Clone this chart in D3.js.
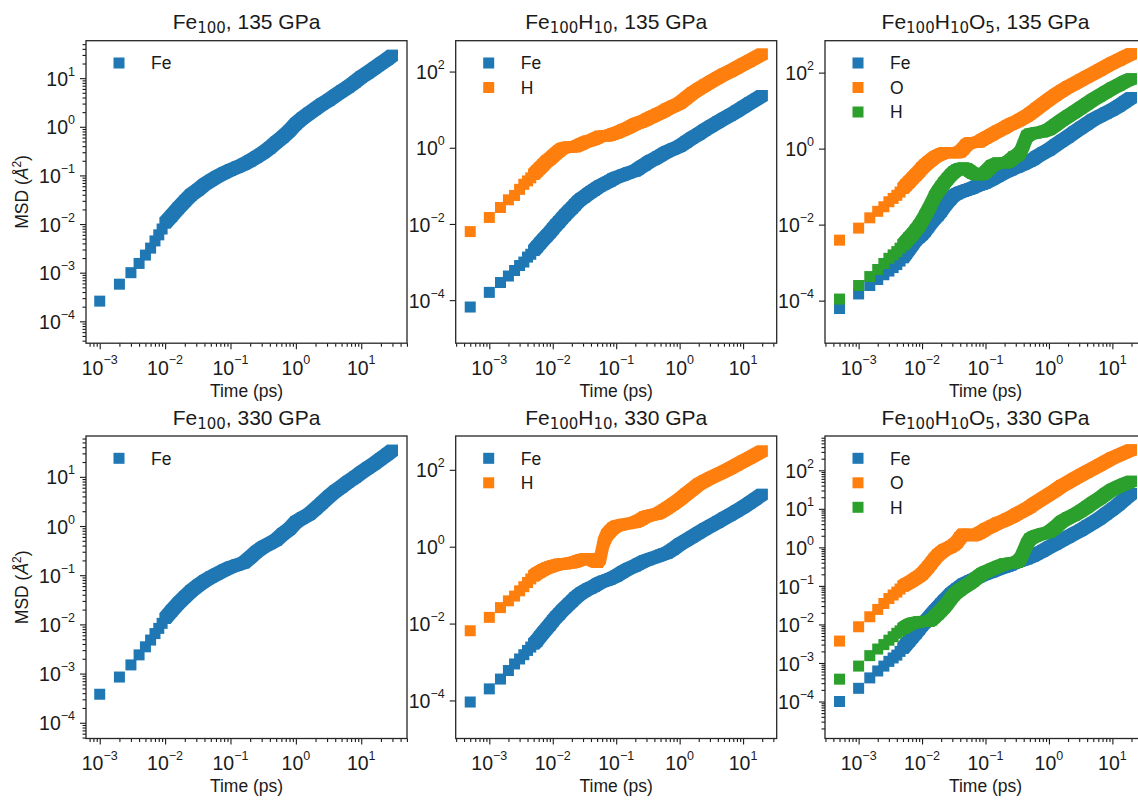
<!DOCTYPE html>
<html>
<head>
<meta charset="utf-8">
<script src="https://d3js.org/d3.v7.min.js"></script>
<style>
  body { margin: 0; background: #fff; overflow: hidden; }
  svg { font-family: "Liberation Sans", Arial, sans-serif; display: block; }
</style>
</head>
<body>
<svg width="1138" height="801"></svg>
<script>
// sampling times (ps); Fe100 runs use 1 fs steps, the H/O runs 0.5 fs
var timeFe100 = [0.001, 0.002, 0.003, 0.004, 0.005, 0.006, 0.007, 0.008, 0.009, 0.01,
  0.0126, 0.016, 0.02, 0.025, 0.032, 0.04, 0.05, 0.063, 0.08, 0.1,
  0.126, 0.16, 0.2, 0.25, 0.32, 0.4, 0.5, 0.63, 0.8, 1,
  1.26, 1.6, 2, 2.5, 3.2, 4, 5, 6.3, 8, 10, 12.6, 16, 20, 25, 30];

var timeMix = [0.0005, 0.001, 0.0015, 0.002, 0.0025, 0.003, 0.0035, 0.004, 0.0045, 0.005,
  0.0056, 0.0063, 0.0071, 0.008, 0.009,
  0.01, 0.0112, 0.0126, 0.0141, 0.0158, 0.0178, 0.02, 0.0224, 0.0251, 0.0282,
  0.0316, 0.0355, 0.0398, 0.0447, 0.0501, 0.0562, 0.0631, 0.0708, 0.0794, 0.0891,
  0.1, 0.126, 0.158, 0.2,
  0.224, 0.251, 0.282, 0.316, 0.355, 0.398, 0.447, 0.501, 0.562, 0.631,
  0.794, 1,
  1.26, 1.58, 2, 2.51, 3.16, 3.98, 5.01, 6.31, 7.94, 10, 12.6, 15.8, 20];

// past this index the real samples sit closer than a marker width
var denseFrom = 9;

// MSD (A^2)
var fe100_135_Fe = [2.6e-4, 5.8e-4, 1.0e-3, 1.55e-3, 2.3e-3, 3.2e-3, 4.5e-3, 6.0e-3, 7.9e-3, 0.0105,
  0.0148, 0.0214, 0.0295, 0.040, 0.051, 0.065, 0.079, 0.095, 0.112, 0.129,
  0.148, 0.17, 0.20, 0.24, 0.295, 0.37, 0.48, 0.62, 0.83, 1.15,
  1.5, 1.9, 2.35, 2.9, 3.55, 4.4, 5.4, 6.6, 8.3, 10.5, 12.9, 16.2, 20, 24.5, 29.5];

var fe100_330_Fe = [3.8e-4, 8.5e-4, 1.5e-3, 2.4e-3, 3.5e-3, 4.8e-3, 6.5e-3, 8.3e-3, 0.0105, 0.0132,
  0.019, 0.027, 0.036, 0.048, 0.062, 0.076, 0.091, 0.107, 0.126, 0.145,
  0.162, 0.18, 0.23, 0.30, 0.38, 0.44, 0.52, 0.69, 0.87, 1.2,
  1.45, 1.74, 2.24, 2.95, 4.0, 5.1, 6.3, 7.9, 9.8, 12.3, 15.1, 18.6, 23.4, 28.8, 34.7];

var feh_135_Fe = [6.6e-5, 1.6e-4, 2.9e-4, 4.3e-4, 6.0e-4, 8.1e-4, 1.0e-3, 1.35e-3, 1.6e-3, 2.0e-3,
  2.5e-3, 3.1e-3, 3.9e-3, 4.8e-3, 6.0e-3,
  7.4e-3, 9.3e-3, 0.0115, 0.0141, 0.0174, 0.0214, 0.026, 0.032, 0.039, 0.046,
  0.052, 0.060, 0.069, 0.078, 0.089, 0.100, 0.110, 0.123, 0.135, 0.151,
  0.166, 0.19, 0.22, 0.25,
  0.28, 0.32, 0.36, 0.41, 0.46, 0.50, 0.56, 0.63, 0.71, 0.78,
  0.93, 1.1,
  1.41, 1.82, 2.3, 2.95, 3.7, 4.7, 5.9, 7.2, 9.1, 11.5, 14.8, 18.6, 23.4];
var feh_135_H = [6.3e-3, 0.0148, 0.027, 0.043, 0.056, 0.081, 0.11, 0.135, 0.162, 0.20,
  0.24, 0.295, 0.36, 0.44, 0.51,
  0.60, 0.71, 0.83, 0.95, 1.02, 1.05, 1.05, 1.07, 1.15, 1.26,
  1.38, 1.48, 1.55, 1.66, 1.82, 2.0, 2.04, 2.04, 2.14, 2.29,
  2.45, 2.9, 3.4, 4.2,
  4.5, 4.8, 5.2, 5.8, 6.3, 6.9, 7.6, 8.3, 9.1, 10.2,
  12.3, 14.8,
  20, 27, 35, 44, 55, 69, 85, 102, 126, 155, 190, 234, 288];

var feho_135_Fe = [6.2e-5, 1.5e-4, 2.5e-4, 3.6e-4, 4.8e-4, 6.0e-4, 7.4e-4, 8.9e-4, 1.1e-3, 1.35e-3,
  1.74e-3, 2.3e-3, 3.0e-3, 4.0e-3, 4.7e-3,
  5.5e-3, 6.9e-3, 8.9e-3, 0.0115, 0.0145, 0.018, 0.023, 0.030, 0.038, 0.048,
  0.058, 0.065, 0.071, 0.076, 0.081, 0.087, 0.093, 0.102, 0.11, 0.117,
  0.126, 0.155, 0.19, 0.234,
  0.257, 0.28, 0.31, 0.33, 0.36, 0.39, 0.43, 0.47, 0.52, 0.60,
  0.76, 0.93,
  1.23, 1.58, 2.04, 2.7, 3.5, 4.5, 5.8, 7.1, 8.7, 10.5, 13.2, 17, 22];
var feho_135_O = [3.9e-3, 8.1e-3, 0.0151, 0.0224, 0.0295, 0.040, 0.049, 0.059, 0.072, 0.089,
  0.11, 0.135, 0.166, 0.204, 0.25,
  0.31, 0.37, 0.44, 0.51, 0.59, 0.66, 0.72, 0.78, 0.79, 0.79,
  0.78, 0.78, 0.83, 1.0, 1.26, 1.41, 1.45, 1.45, 1.51, 1.7,
  1.9, 2.34, 2.9, 3.55,
  4.0, 4.4, 4.8, 5.2, 5.8, 6.5, 7.2, 8.3, 9.5, 11,
  14.8, 19.5,
  25.7, 33, 42, 51, 63, 78, 95, 117, 145, 178, 214, 263, 316];
var feho_135_H = [1.1e-4, 2.5e-4, 4.3e-4, 6.6e-4, 9.5e-4, 1.3e-3, 1.6e-3, 1.95e-3, 2.4e-3, 2.9e-3,
  3.6e-3, 4.5e-3, 5.6e-3, 7.2e-3, 9.3e-3,
  0.0123, 0.0174, 0.025, 0.036, 0.054, 0.074, 0.098, 0.126, 0.158, 0.20,
  0.24, 0.275, 0.30, 0.31, 0.295, 0.257, 0.224, 0.209, 0.204, 0.209,
  0.24, 0.355, 0.42, 0.42,
  0.44, 0.50, 0.60, 0.66, 0.79, 1.26, 2.1, 2.4, 2.5, 2.6,
  2.8, 3.2,
  4.2, 5.5, 7.1, 9.1, 11.7, 15.1, 19.5, 24.5, 31, 39, 47, 58, 69];

var feh_330_Fe = [9.1e-5, 2.0e-4, 3.6e-4, 6.0e-4, 8.9e-4, 1.2e-3, 1.55e-3, 2.0e-3, 2.45e-3, 2.95e-3,
  3.6e-3, 4.6e-3, 5.9e-3, 7.4e-3, 9.3e-3,
  0.0117, 0.0145, 0.0178, 0.022, 0.026, 0.032, 0.038, 0.046, 0.054, 0.062,
  0.069, 0.078, 0.085, 0.093, 0.105, 0.117, 0.126, 0.135, 0.145, 0.158,
  0.174, 0.22, 0.27, 0.32,
  0.355, 0.39, 0.43, 0.46, 0.49, 0.52, 0.56, 0.60, 0.65, 0.69,
  0.87, 1.15,
  1.45, 1.82, 2.3, 2.9, 3.55, 4.4, 5.5, 6.8, 8.5, 10.7, 13.8, 17.8, 23];
var feh_330_H = [6.5e-3, 0.0145, 0.026, 0.039, 0.052, 0.071, 0.091, 0.117, 0.145, 0.174,
  0.20, 0.224, 0.25, 0.275, 0.295,
  0.316, 0.33, 0.35, 0.355, 0.36, 0.37, 0.38, 0.40, 0.43, 0.46,
  0.48, 0.49, 0.47, 0.42, 0.39, 0.50, 1.26, 2.0, 2.5, 3.0,
  3.4, 3.8, 4.0, 4.3,
  4.7, 5.2, 5.9, 6.3, 6.6, 6.9, 7.2, 7.9, 8.9, 10,
  12.9, 17,
  23, 31, 42, 52, 63, 76, 91, 110, 135, 166, 204, 251, 309];

var feho_330_Fe = [1.0e-4, 2.2e-4, 4.1e-4, 6.2e-4, 8.3e-4, 1.1e-3, 1.35e-3, 1.6e-3, 2.0e-3, 2.4e-3,
  3.0e-3, 3.8e-3, 4.8e-3, 6.0e-3, 7.6e-3,
  9.5e-3, 0.0117, 0.0145, 0.018, 0.0224, 0.0275, 0.034, 0.042, 0.050, 0.062,
  0.072, 0.083, 0.095, 0.11, 0.12, 0.132, 0.145, 0.158, 0.174, 0.19,
  0.204, 0.234, 0.27, 0.31,
  0.33, 0.355, 0.39, 0.42, 0.45, 0.48, 0.51, 0.55, 0.60, 0.66,
  0.81, 1.0,
  1.23, 1.51, 1.86, 2.3, 2.8, 3.55, 4.4, 5.6, 7.4, 9.8, 13.2, 18.2, 25];
var feho_330_O = [3.7e-3, 8.7e-3, 0.0158, 0.0245, 0.035, 0.047, 0.058, 0.069, 0.083, 0.098,
  0.11, 0.123, 0.138, 0.158, 0.178,
  0.204, 0.25, 0.316, 0.40, 0.51, 0.63, 0.74, 0.85, 0.93, 1.02,
  1.15, 1.35, 1.78, 2.2, 2.2, 2.04, 2.0, 2.14, 2.34, 2.6,
  2.95, 3.55, 4.3, 5.0,
  5.5, 6.0, 6.6, 7.4, 8.1, 9.1, 10, 11.2, 12.9, 14.5,
  18.6, 23.4,
  30, 39, 48, 60, 74, 91, 112, 138, 170, 209, 245, 288, 339];
var feho_330_H = [3.8e-4, 8.3e-4, 1.55e-3, 2.3e-3, 3.0e-3, 3.9e-3, 4.8e-3, 5.9e-3, 6.8e-3, 7.8e-3,
  8.9e-3, 0.010, 0.0107, 0.0112, 0.0117,
  0.012, 0.012, 0.012, 0.0132, 0.0158, 0.019, 0.023, 0.028, 0.035, 0.046,
  0.058, 0.069, 0.079, 0.091, 0.102, 0.115, 0.132, 0.155, 0.18, 0.21,
  0.23, 0.27, 0.32, 0.37,
  0.38, 0.39, 0.40, 0.42, 0.50, 0.76, 1.2, 1.62, 1.82, 2.0,
  2.24, 2.45,
  3.3, 4.6, 5.8, 6.9, 8.7, 11.2, 14.5, 18.6, 24.5, 31.6, 38, 45, 52];

// panel titles: [text, subscript?]
var title1 = [["Fe", 0], ["100", 1], [", 135 GPa", 0]];
var title2 = [["Fe", 0], ["100", 1], ["H", 0], ["10", 1], [", 135 GPa", 0]];
var title3 = [["Fe", 0], ["100", 1], ["H", 0], ["10", 1], ["O", 0], ["5", 1], [", 135 GPa", 0]];
var title4 = [["Fe", 0], ["100", 1], [", 330 GPa", 0]];
var title5 = [["Fe", 0], ["100", 1], ["H", 0], ["10", 1], [", 330 GPa", 0]];
var title6 = [["Fe", 0], ["100", 1], ["H", 0], ["10", 1], ["O", 0], ["5", 1], [", 330 GPa", 0]];

// axis limits as log10 exponents
var xlimFe100 = [-3.21, 1.70], xlimMix = [-3.53, 1.53];
var ylims = [[-4.45, 1.77], [-5.13, 2.81], [-5.12, 2.84], [-4.32, 1.83], [-4.99, 2.88], [-4.96, 2.89]];

var colors = ["#1f77b4", "#ff7f0e", "#2ca02c"];

var panels = [
  {col: 0, row: 0, title: title1, t: timeFe100, xlim: xlimFe100, ylim: ylims[0], ystep: 1,
    series: [["Fe", fe100_135_Fe]]},
  {col: 1, row: 0, title: title2, t: timeMix, xlim: xlimMix, ylim: ylims[1], ystep: 2,
    series: [["Fe", feh_135_Fe], ["H", feh_135_H]]},
  {col: 2, row: 0, title: title3, t: timeMix, xlim: xlimMix, ylim: ylims[2], ystep: 2,
    series: [["Fe", feho_135_Fe], ["O", feho_135_O], ["H", feho_135_H]]},
  {col: 0, row: 1, title: title4, t: timeFe100, xlim: xlimFe100, ylim: ylims[3], ystep: 1,
    series: [["Fe", fe100_330_Fe]]},
  {col: 1, row: 1, title: title5, t: timeMix, xlim: xlimMix, ylim: ylims[4], ystep: 2,
    series: [["Fe", feh_330_Fe], ["H", feh_330_H]]},
  {col: 2, row: 1, title: title6, t: timeMix, xlim: xlimMix, ylim: ylims[5], ystep: 1,
    series: [["Fe", feho_330_Fe], ["O", feho_330_O], ["H", feho_330_H]]}
];

var svg = d3.select("svg");
var W = 321, H = 302.5;
var colLeft = [86, 455.7, 825], rowTop = [40.7, 436];
var ink = "#1a1a1a";
var ms = 11;

function pow10(e) { return Math.pow(10, e); }
function expLabel(e) { return e < 0 ? "\u2212" + (-e) : "" + e; }

function majors(lim, step) {
  var out = [];
  for (var e = Math.ceil(lim[0]); e <= Math.floor(lim[1]); e++) {
    if (e % step === 0) out.push(e);
  }
  return out;
}
function minors(lim) {
  var out = [], lo = pow10(lim[0]), hi = pow10(lim[1]);
  for (var e = Math.floor(lim[0]); e <= Math.floor(lim[1]); e++) {
    for (var k = 2; k <= 9; k++) {
      var v = k * pow10(e);
      if (v >= lo && v <= hi) out.push(v);
    }
  }
  return out;
}
function corners(px, py) {
  var h = ms / 2;
  return [[px - h, py - h], [px + h, py - h], [px + h, py + h], [px - h, py + h]];
}

panels.forEach(function(p, pi) {
  var g = svg.append("g")
    .attr("transform", "translate(" + colLeft[p.col] + "," + rowTop[p.row] + ")");

  var x = d3.scaleLog().domain(p.xlim.map(pow10)).range([0, W]);
  var y = d3.scaleLog().domain(p.ylim.map(pow10)).range([H, 0]);

  g.append("clipPath").attr("id", "clip" + pi)
    .append("rect").attr("width", W).attr("height", H);

  // markers; where the sampled squares overlap into a band, sweep the square between samples
  var plot = g.append("g").attr("clip-path", "url(#clip" + pi + ")");
  p.series.forEach(function(s, si) {
    var sg = plot.append("g").attr("fill", colors[si]);
    var pts = s[1].map(function(d, i) { return [x(p.t[i]), y(d)]; });
    var sweeps = d3.range(denseFrom, pts.length - 1).map(function(i) {
      return d3.polygonHull(corners(pts[i][0], pts[i][1]).concat(corners(pts[i + 1][0], pts[i + 1][1])));
    });
    sg.selectAll("path")
      .data(sweeps)
      .enter().append("path")
        .attr("d", function(h) { return "M" + h.join("L") + "Z"; });
    sg.selectAll("rect")
      .data(pts)
      .enter().append("rect")
        .attr("x", function(d) { return d[0] - ms / 2; })
        .attr("y", function(d) { return d[1] - ms / 2; })
        .attr("width", ms)
        .attr("height", ms);
  });

  // x axis
  var xMaj = majors(p.xlim, 1);
  var xa = g.append("g").attr("transform", "translate(0," + H + ")").style("color", ink);
  xa.append("g").call(d3.axisBottom(x).tickValues(minors(p.xlim)).tickSize(3.5).tickSizeOuter(0).tickFormat(""));
  xa.append("g").call(d3.axisBottom(x).tickValues(xMaj.map(pow10)).tickSize(6).tickSizeOuter(0).tickFormat(""));
  xa.selectAll(".domain").remove();
  xa.selectAll("line").attr("stroke-width", 1.1);

  xMaj.forEach(function(e) {
    var t = g.append("text")
      .attr("x", x(pow10(e)))
      .attr("y", H + 31.7)
      .attr("text-anchor", "middle")
      .attr("font-size", 19.5)
      .attr("fill", ink);
    t.append("tspan").text("10");
    t.append("tspan").attr("dy", -10.5).attr("font-size", 12.5).text(expLabel(e));
  });

  // y axis
  var yMaj = majors(p.ylim, p.ystep);
  var ya = g.append("g").style("color", ink);
  if (p.ystep === 1) {
    ya.append("g").call(d3.axisLeft(y).tickValues(minors(p.ylim)).tickSize(3.5).tickSizeOuter(0).tickFormat(""));
  }
  ya.append("g").call(d3.axisLeft(y).tickValues(yMaj.map(pow10)).tickSize(6).tickSizeOuter(0).tickFormat(""));
  ya.selectAll(".domain").remove();
  ya.selectAll("line").attr("stroke-width", 1.1);

  yMaj.forEach(function(e) {
    var t = g.append("text")
      .attr("x", -11)
      .attr("y", y(pow10(e)) + 7.6)
      .attr("text-anchor", "end")
      .attr("font-size", 19.5)
      .attr("fill", ink);
    t.append("tspan").text("10");
    t.append("tspan").attr("dy", -10).attr("font-size", 12.5).text(expLabel(e));
  });

  // frame
  g.append("rect")
    .attr("width", W).attr("height", H)
    .attr("fill", "none").attr("stroke", "#262626").attr("stroke-width", 1.3);

  // title
  var tt = g.append("text")
    .attr("x", W / 2).attr("y", -11.5)
    .attr("text-anchor", "middle")
    .attr("font-size", 21)
    .attr("fill", ink);
  var shifted = false;
  p.title.forEach(function(part) {
    var sp = tt.append("tspan").text(part[0]);
    if (part[1]) {
      sp.attr("font-family", "DejaVu Sans").attr("font-size", 15).attr("dy", 4);
      shifted = true;
    } else if (shifted) {
      sp.attr("dy", -4);
      shifted = false;
    }
  });

  // x label
  g.append("text")
    .attr("x", W / 2).attr("y", H + 53.6)
    .attr("text-anchor", "middle")
    .attr("font-size", 17.5)
    .attr("fill", ink)
    .text("Time (ps)");

  // y label on the first column
  if (p.col === 0) {
    var yl = g.append("text")
      .attr("transform", "translate(" + (28 - colLeft[0]) + "," + (H / 2) + ") rotate(-90)")
      .attr("text-anchor", "middle")
      .attr("font-size", 17.5)
      .attr("fill", ink);
    yl.append("tspan").text("MSD (");
    yl.append("tspan").attr("font-style", "italic").text("\u00c5");
    yl.append("tspan").attr("dy", -7).attr("font-size", 12).text("2");
    yl.append("tspan").attr("dy", 7).text(")");
  }

  // legend
  var lg = g.append("g");
  p.series.forEach(function(s, si) {
    var cy = 22.3 + si * 24.5;
    lg.append("rect")
      .attr("x", 33 - ms / 2).attr("y", cy - ms / 2)
      .attr("width", ms).attr("height", ms)
      .attr("fill", colors[si]);
    lg.append("text")
      .attr("x", 65).attr("y", cy + 6.2)
      .attr("font-size", 17.5)
      .attr("fill", ink)
      .text(s[0]);
  });
});
</script>
</body>
</html>
